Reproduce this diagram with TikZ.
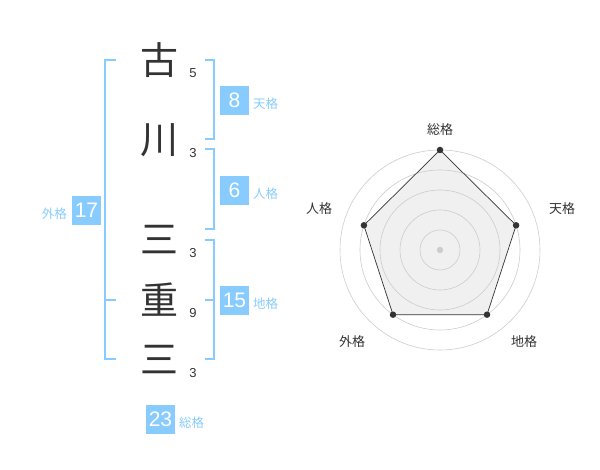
\documentclass[tikz,border=0pt]{standalone}
\usepackage{fontspec}
\setmainfont{Liberation Sans}
\newfontfamily\cjk{Noto Sans CJK JP}
\definecolor{sky}{HTML}{88CCFF}
\definecolor{ink}{HTML}{333333}
\definecolor{ring}{HTML}{CCCCCC}
\definecolor{area}{HTML}{F0F0F0}
\begin{document}
\begin{tikzpicture}[x=1pt,y=-1pt,
  kanji/.style={font=\cjk\fontsize{38}{38}\selectfont, text=ink, inner sep=0pt},
  strokes/.style={font=\fontsize{13}{13}\selectfont, text=ink, inner sep=0pt},
  valbox/.style={fill=sky, text=white, minimum width=29pt, minimum height=29pt, inner sep=0pt, font=\fontsize{21}{21}\selectfont},
  vallabel/.style={font=\cjk\fontsize{12.5}{12.5}\selectfont, text=sky, inner sep=0pt},
  brk/.style={draw=sky, line width=1.6pt},
  axislabel/.style={font=\cjk\fontsize{13}{13}\selectfont, text=ink, inner sep=0pt},
  dot/.style={circle, fill=ink, inner sep=0pt, minimum size=6.5pt}]
\useasboundingbox (0,0) rectangle (600,470);
% kanji
\node[kanji] (k1) at (159,60) {古};
\node[kanji] (k2) at (159,140) {川};
\node[kanji] (k3) at (159,240) {三};
\node[kanji] (k4) at (159,300) {重};
\node[kanji] (k5) at (159,360) {三};
% strokes
\node[strokes] (s1) at (193,73) {5};
\node[strokes] (s2) at (193,153) {3};
\node[strokes] (s3) at (193,253) {3};
\node[strokes] (s4) at (193,313) {9};
\node[strokes] (s5) at (193,373) {3};
% brackets
\draw[brk] (116,60) -- (105,60) -- (105,359) -- (116,359);
\draw[brk] (105,300) -- (116,300);
\draw[brk] (205,60) -- (214,60) -- (214,139) -- (205,139);
\draw[brk] (205,149) -- (214,149) -- (214,229) -- (205,229);
\draw[brk] (205,240) -- (214,240) -- (214,359) -- (205,359);
\draw[brk] (205,300) -- (214,300);
% value boxes
\node[valbox] (ten) at (234.5,100.5) {8};
\node[vallabel, anchor=west] (tenl) at (253,104) {天格};
\node[valbox] (jin) at (234.5,190.5) {6};
\node[vallabel, anchor=west] (jinl) at (253,193.5) {人格};
\node[valbox] (chi) at (234.5,300.5) {15};
\node[vallabel, anchor=west] (chil) at (253,304) {地格};
\node[valbox] (gai) at (86.5,210.5) {17};
\node[vallabel, anchor=east] (gail) at (67,213.5) {外格};
\node[valbox] (sou) at (160.5,419) {23};
\node[vallabel, anchor=west] (soul) at (179,422.5) {総格};
% radar
\coordinate (c) at (440,250);
\coordinate (pS) at (440,150);
\coordinate (pT) at (516.1,225.3);
\coordinate (pC) at (487.0,314.7);
\coordinate (pG) at (393.0,314.7);
\coordinate (pJ) at (363.9,225.3);
\fill[area] (pS) -- (pT) -- (pC) -- (pG) -- (pJ) -- cycle;
\foreach \r in {20,40,60,80,100} \draw[ring, line width=0.6pt] (c) circle[radius=\r];
\draw[ink, line width=0.7pt] (pS) -- (pT) -- (pC) -- (pG) -- (pJ) -- cycle;
\fill[ring] (c) circle[radius=3.2];
\node[dot] (dS) at (pS) {};
\node[dot] (dT) at (pT) {};
\node[dot] (dC) at (pC) {};
\node[dot] (dG) at (pG) {};
\node[dot] (dJ) at (pJ) {};
\node[axislabel] (lS) at (440,130) {総格};
\node[axislabel] (lT) at (562,208.5) {天格};
\node[axislabel] (lC) at (524,341.5) {地格};
\node[axislabel] (lG) at (352,341.5) {外格};
\node[axislabel] (lJ) at (319,208.5) {人格};
\end{tikzpicture}
\end{document}
